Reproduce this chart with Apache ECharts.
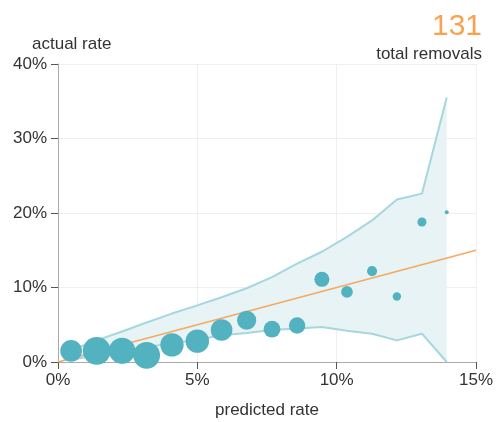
<!DOCTYPE html>
<html>
<head>
<meta charset="utf-8">
<script src="https://cdn.jsdelivr.net/npm/echarts@6/dist/echarts.min.js"></script>
<style>
  html, body { margin: 0; padding: 0; background: #fff; }
  #chart { width: 496px; height: 422px; }
</style>
</head>
<body>
<div id="chart"></div>
<script>
// Calibration bins: mean predicted rate (%), observed rate (%), bin count
var predicted = [0.47, 1.39, 2.30, 3.18, 4.09, 5.00, 5.87, 6.77, 7.68, 8.58, 9.47, 10.37, 11.27, 12.16, 13.06, 13.95];
var actual    = [1.5, 1.5, 1.5, 0.9, 2.3, 2.8, 4.3, 5.6, 4.4, 4.9, 11.1, 9.4, 12.2, 8.8, 18.8, 20.1];
var binCount  = [300, 495, 440, 460, 350, 350, 300, 235, 180, 172, 145, 88, 65, 45, 52, 10];
// Expected range of the observed rate for each bin (%)
var bandLow   = [0.3, 0.9, 1.5, 2.0, 2.5, 3.0, 3.6, 3.9, 4.3, 4.5, 4.7, 4.2, 3.8, 2.9, 3.8, 0.0];
var bandHigh  = [1.6, 2.9, 4.1, 5.3, 6.5, 7.6, 8.7, 9.9, 11.4, 13.2, 14.8, 16.8, 19.0, 21.8, 22.6, 35.5];
// Perfect-calibration reference line
var refLine   = [[0, 0], [15, 15]];
var xTicks    = [0, 5, 10, 15];
var yTicks    = [0, 10, 20, 30, 40];
var totalRemovals = 131;

var FONT = '"Liberation Sans", Arial, Helvetica, sans-serif';
var TEXT = '#333';
var BAND_LINE = '#a6d6de';

var chart = echarts.init(document.getElementById('chart'), null, { renderer: 'canvas' });

var bandData = predicted.map(function (p, i) { return [p, bandLow[i], bandHigh[i]]; });
var lowData = predicted.map(function (p, i) { return [p, bandLow[i]]; });
var highData = predicted.map(function (p, i) { return [p, bandHigh[i]]; });
var pointData = predicted.map(function (p, i) { return [p, actual[i], binCount[i]]; });

// Filled region between the lower and upper bounds, drawn as one polygon
function renderBand(params, api) {
  if (params.dataIndex !== 0) return;
  var pts = [];
  for (var i = 0; i < bandData.length; i++) pts.push(api.coord([bandData[i][0], bandData[i][2]]));
  for (var j = bandData.length - 1; j >= 0; j--) pts.push(api.coord([bandData[j][0], bandData[j][1]]));
  return {
    type: 'polygon',
    shape: { points: pts },
    style: { fill: '#e8f3f6', stroke: null }
  };
}

chart.setOption({
  animation: false,
  backgroundColor: '#fff',
  grid: { left: 58, right: 20, top: 64, bottom: 60, containLabel: false, outerBoundsMode: 'none' },
  xAxis: {
    type: 'value',
    min: xTicks[0], max: xTicks[xTicks.length - 1], interval: 5,
    name: 'predicted rate', nameLocation: 'middle', nameGap: 40,
    nameTextStyle: { fontFamily: FONT, fontSize: 17, color: TEXT },
    axisLine: { show: true, lineStyle: { color: '#aaa', width: 1 } },
    axisTick: { show: true, length: 7, lineStyle: { color: '#555' } },
    axisLabel: { fontFamily: FONT, fontSize: 17, color: TEXT, margin: 10, formatter: '{value}%' },
    splitLine: { show: true, lineStyle: { color: '#efefef', width: 1 } }
  },
  yAxis: {
    type: 'value',
    min: yTicks[0], max: yTicks[yTicks.length - 1], interval: 10,
    axisLine: { show: true, lineStyle: { color: '#aaa', width: 1 } },
    axisTick: { show: true, length: 7, lineStyle: { color: '#555' } },
    axisLabel: { fontFamily: FONT, fontSize: 17, color: TEXT, margin: 11, formatter: '{value}%' },
    splitLine: { show: true, lineStyle: { color: '#efefef', width: 1 } }
  },
  graphic: [
    { type: 'text', left: 32, top: 36,
      style: { text: 'actual rate', font: '17px ' + FONT, fill: TEXT } },
    { type: 'text', right: 14, top: 12,
      style: { text: String(totalRemovals), font: '30px ' + FONT, fill: '#f7a24e', textAlign: 'right' } },
    { type: 'text', right: 14, top: 46,
      style: { text: 'total removals', font: '17px ' + FONT, fill: TEXT, textAlign: 'right' } }
  ],
  series: [
    {
      type: 'custom', data: bandData, renderItem: renderBand, silent: true, z: 1,
      encode: { x: 0, y: [1, 2] }
    },
    {
      type: 'line', data: lowData, symbol: 'none', silent: true,
      lineStyle: { color: BAND_LINE, width: 2 }, z: 1
    },
    {
      type: 'line', data: highData, symbol: 'none', silent: true,
      lineStyle: { color: BAND_LINE, width: 2 }, z: 1
    },
    {
      type: 'line', data: refLine, symbol: 'none', silent: true,
      lineStyle: { color: '#f6a85f', width: 1.5 }, z: 2
    },
    {
      type: 'scatter', data: pointData, clip: false, z: 3,
      symbolSize: function (v) { return 1.25 * Math.sqrt(v[2]); },
      itemStyle: { color: '#52b2bf', opacity: 1 }
    }
  ]
});
</script>
</body>
</html>
